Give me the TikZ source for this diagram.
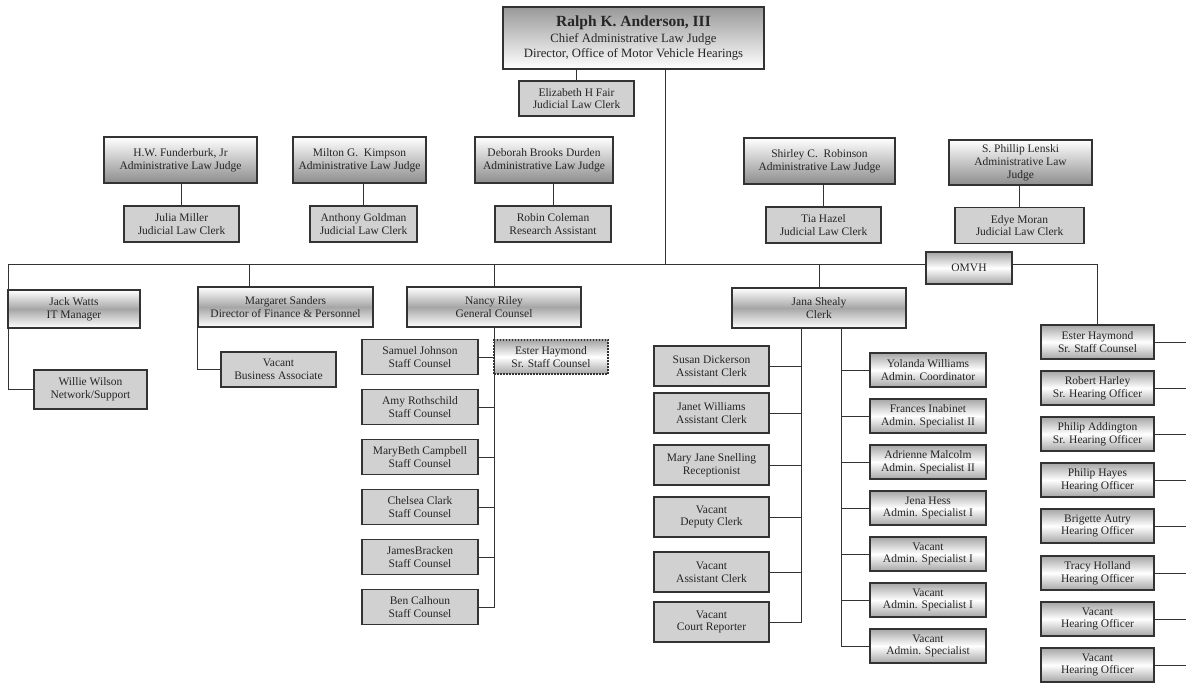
\documentclass[tikz,border=0pt]{standalone}
\usepackage{fontspec}
\setmainfont{Liberation Serif}
\begin{document}
\begin{tikzpicture}[x=1pt,y=-1pt,
  box/.style={draw=black!80,line width=1.2pt,align=center,inner sep=1pt,text=black!85,font=\fontsize{11.5}{12.8}\selectfont},
  boss/.style={box,top color=black!40,bottom color=white,font=\fontsize{12.7}{15.5}\selectfont},
  judge/.style={box,top color=white,bottom color=black!45},
  clerk/.style={box,fill=black!18},
  head/.style={box,top color=white,bottom color=white,middle color=black!35},
  staff/.style={box,top color=black!35,bottom color=black!35,middle color=white},
  link/.style={draw=black!80,line width=0.9pt}]
\useasboundingbox (0,0) rectangle (1186,684);
\node[boss,minimum width=261pt,minimum height=62pt] (anderson) at (633.5,38) {{\fontsize{15.5}{17}\selectfont\bfseries Ralph K. Anderson, III}\\Chief Administrative Law Judge\\Director, Office of Motor Vehicle Hearings};
\node[clerk,minimum width=115pt,minimum height=35pt] (fair) at (576.5,98.5) {Elizabeth H Fair\\Judicial Law Clerk};
\draw[link] (fair.north) -- (fair.north |- anderson.south);
\node[judge,minimum width=153pt,minimum height=46pt] (funderburk) at (180.5,160) {H.W. Funderburk, Jr\\Administrative Law Judge};
\node[judge,minimum width=133pt,minimum height=46pt] (kimpson) at (359.5,160) {Milton G.\ \ Kimpson\\Administrative Law Judge};
\node[judge,minimum width=138pt,minimum height=46pt] (durden) at (544,160) {Deborah Brooks Durden\\Administrative Law Judge};
\node[judge,minimum width=151pt,minimum height=46pt] (robinson) at (819.5,161) {Shirley C.\ \ Robinson\\Administrative Law Judge};
\node[judge,minimum width=143pt,minimum height=45pt] (lenski) at (1020.5,162.5) {S. Phillip Lenski\\Administrative Law\\Judge};
\node[clerk,minimum width=115pt,minimum height=36pt] (miller) at (181.5,224) {Julia Miller\\Judicial Law Clerk};
\node[clerk,minimum width=107pt,minimum height=36pt] (goldman) at (363.5,224) {Anthony Goldman\\Judicial Law Clerk};
\node[clerk,minimum width=116pt,minimum height=36pt] (coleman) at (553,224) {Robin Coleman\\Research Assistant};
\node[clerk,minimum width=115pt,minimum height=36pt] (hazel) at (823.5,225) {Tia Hazel\\Judicial Law Clerk};
\node[clerk,minimum width=129pt,minimum height=36pt] (moran) at (1019.5,225.5) {Edye Moran\\Judicial Law Clerk};
\draw[link] (miller.north) -- (miller.north |- funderburk.south);
\draw[link] (goldman.north) -- (goldman.north |- kimpson.south);
\draw[link] (coleman.north) -- (coleman.north |- durden.south);
\draw[link] (hazel.north) -- (hazel.north |- robinson.south);
\draw[link] (moran.north) -- (moran.north |- lenski.south);
\coordinate (bus) at (665,264);
\coordinate (itcorner) at (8,264);
\coordinate (rim) at (1186,0);
\node[staff,minimum width=86pt,minimum height=32pt] (omvh) at (969,268) {OMVH};
\draw[link] (anderson.south -| bus) -- (bus);
\draw[link] (itcorner) -- (omvh.west |- bus);
\node[head,minimum width=132pt,minimum height=38pt] (watts) at (74,309) {Jack Watts\\IT Manager};
\node[clerk,minimum width=113pt,minimum height=39pt] (wilson) at (90.5,389.5) {Willie Wilson\\Network/Support};
\draw[link] (itcorner) |- (wilson.west);
\node[head,minimum width=175pt,minimum height=40pt] (sanders) at (285.5,307) {Margaret Sanders\\Director of Finance \& Personnel};
\node[clerk,minimum width=115pt,minimum height=35pt] (bizassoc) at (278.5,369.5) {Vacant\\Business Associate};
\draw[link] ([xshift=-36pt]sanders.north) -- ([xshift=-36pt]sanders.north |- bus);
\draw[link] (sanders.south west) |- (bizassoc.west);
\node[head,minimum width=174pt,minimum height=40pt] (riley) at (494,307) {Nancy Riley\\General Counsel};
\draw[link] (riley.north) -- (riley.north |- bus);
\node[clerk,minimum width=116pt,minimum height=35pt] (johnson) at (420,357) {Samuel Johnson\\Staff Counsel};
\node[staff,dash pattern=on 1.5pt off 1.5pt,minimum width=114pt,minimum height=34pt] (haymondsc) at (551,357) {Ester Haymond\\Sr. Staff Counsel};
\node[clerk,minimum width=116pt,minimum height=35pt] (rothschild) at (420,407) {Amy Rothschild\\Staff Counsel};
\node[clerk,minimum width=116pt,minimum height=35pt] (campbell) at (420,457) {MaryBeth Campbell\\Staff Counsel};
\node[clerk,minimum width=116pt,minimum height=35pt] (clark) at (420,507) {Chelsea Clark\\Staff Counsel};
\node[clerk,minimum width=116pt,minimum height=35pt] (bracken) at (420,557) {JamesBracken\\Staff Counsel};
\node[clerk,minimum width=116pt,minimum height=35pt] (calhoun) at (420,607) {Ben Calhoun\\Staff Counsel};
\draw[link] (riley.south) |- (calhoun.east);
\draw[link] (johnson.east) -- (haymondsc.west);
\draw[link] (rothschild.east) -- (rothschild.east -| riley.south);
\draw[link] (campbell.east) -- (campbell.east -| riley.south);
\draw[link] (clark.east) -- (clark.east -| riley.south);
\draw[link] (bracken.east) -- (bracken.east -| riley.south);
\node[head,minimum width=174pt,minimum height=40pt] (shealy) at (819,308) {Jana Shealy\\Clerk};
\draw[link] (shealy.north) -- (shealy.north |- bus);
\coordinate (clerkleft) at ([xshift=-18pt]shealy.south);
\coordinate (clerkright) at ([xshift=22pt]shealy.south);
\node[clerk,minimum width=115pt,minimum height=40pt] (dickerson) at (711.5,366) {Susan Dickerson\\Assistant Clerk};
\node[clerk,minimum width=115pt,minimum height=40pt] (jwilliams) at (711.5,413) {Janet Williams\\Assistant Clerk};
\node[clerk,minimum width=115pt,minimum height=40pt] (snelling) at (711.5,465) {Mary Jane Snelling\\Receptionist};
\node[clerk,minimum width=115pt,minimum height=40pt] (deputy) at (711.5,517) {Vacant\\Deputy Clerk};
\node[clerk,minimum width=115pt,minimum height=40pt] (asstclerk) at (711.5,572) {Vacant\\Assistant Clerk};
\node[clerk,minimum width=115pt,minimum height=40pt] (reporter) at (711.5,622) {Vacant\\Court Reporter};
\draw[link] (clerkleft) |- (reporter.east);
\draw[link] (dickerson.east) -- (dickerson.east -| clerkleft);
\draw[link] (jwilliams.east) -- (jwilliams.east -| clerkleft);
\draw[link] (snelling.east) -- (snelling.east -| clerkleft);
\draw[link] (deputy.east) -- (deputy.east -| clerkleft);
\draw[link] (asstclerk.east) -- (asstclerk.east -| clerkleft);
\node[staff,minimum width=116pt,minimum height=34pt] (ywilliams) at (928,370) {Yolanda Williams\\Admin. Coordinator};
\node[staff,minimum width=116pt,minimum height=34pt] (inabinet) at (928,416) {Frances Inabinet\\Admin. Specialist II};
\node[staff,minimum width=116pt,minimum height=34pt] (malcolm) at (928,462) {Adrienne Malcolm\\Admin. Specialist II};
\node[staff,minimum width=116pt,minimum height=34pt] (hess) at (928,508) {Jena Hess\\Admin. Specialist I};
\node[staff,minimum width=116pt,minimum height=34pt] (specone) at (928,554) {Vacant\\Admin. Specialist I};
\node[staff,minimum width=116pt,minimum height=34pt] (spectwo) at (928,600) {Vacant\\Admin. Specialist I};
\node[staff,minimum width=116pt,minimum height=34pt] (specthree) at (928,646) {Vacant\\Admin. Specialist};
\draw[link] (clerkright) |- (specthree.west);
\draw[link] (ywilliams.west) -- (ywilliams.west -| clerkright);
\draw[link] (inabinet.west) -- (inabinet.west -| clerkright);
\draw[link] (malcolm.west) -- (malcolm.west -| clerkright);
\draw[link] (hess.west) -- (hess.west -| clerkright);
\draw[link] (specone.west) -- (specone.west -| clerkright);
\draw[link] (spectwo.west) -- (spectwo.west -| clerkright);
\node[staff,minimum width=113pt,minimum height=34pt] (haymond) at (1097.5,342) {Ester Haymond\\Sr. Staff Counsel};
\node[staff,minimum width=113pt,minimum height=34pt] (harley) at (1097.5,388) {Robert Harley\\Sr. Hearing Officer};
\node[staff,minimum width=113pt,minimum height=34pt] (addington) at (1097.5,434) {Philip Addington\\Sr. Hearing Officer};
\node[staff,minimum width=113pt,minimum height=34pt] (hayes) at (1097.5,480) {Philip Hayes\\Hearing Officer};
\node[staff,minimum width=113pt,minimum height=34pt] (autry) at (1097.5,526) {Brigette Autry\\Hearing Officer};
\node[staff,minimum width=113pt,minimum height=34pt] (holland) at (1097.5,573) {Tracy Holland\\Hearing Officer};
\node[staff,minimum width=113pt,minimum height=34pt] (hoone) at (1097.5,619) {Vacant\\Hearing Officer};
\node[staff,minimum width=113pt,minimum height=34pt] (hotwo) at (1097.5,665) {Vacant\\Hearing Officer};
\draw[link] (omvh.east |- bus) -| (haymond.north);
\draw[link] (haymond.east) -- (haymond.east -| rim);
\draw[link] (harley.east) -- (harley.east -| rim);
\draw[link] (addington.east) -- (addington.east -| rim);
\draw[link] (hayes.east) -- (hayes.east -| rim);
\draw[link] (autry.east) -- (autry.east -| rim);
\draw[link] (holland.east) -- (holland.east -| rim);
\draw[link] (hoone.east) -- (hoone.east -| rim);
\draw[link] (hotwo.east) -- (hotwo.east -| rim);
\end{tikzpicture}
\end{document}
